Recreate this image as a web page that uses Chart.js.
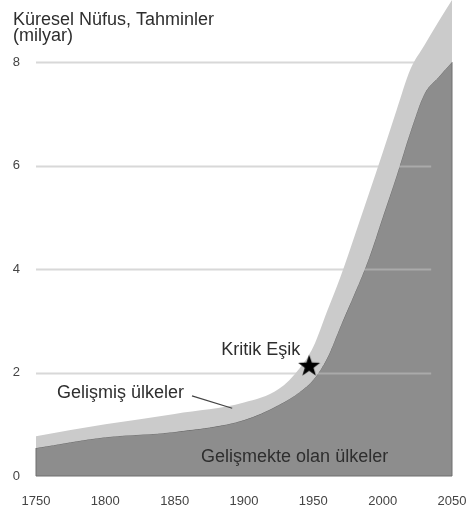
<!DOCTYPE html>
<html><head><meta charset="utf-8">
<script src="https://cdn.jsdelivr.net/npm/chart.js@4"></script>
<style>html,body{margin:0;padding:0;background:#fff}canvas{display:block}</style>
</head><body>
<canvas id="c" width="466" height="517"></canvas>
<script>
// ---- data ----
const years      = [1750, 1800, 1850, 1900, 1925, 1940, 1950, 1960, 1970, 1980, 1990, 2000, 2010, 2020, 2030, 2040, 2050];
const developing = [0.54, 0.75, 0.85, 1.08, 1.37, 1.62, 1.86, 2.28, 2.92, 3.54, 4.20, 5.00, 5.80, 6.65, 7.38, 7.70, 8.00];
const total      = [0.77, 1.00, 1.20, 1.42, 1.68, 2.08, 2.50, 3.19, 3.88, 4.66, 5.45, 6.25, 7.07, 7.86, 8.32, 8.77, 9.20];
const xTickValues = [1750, 1800, 1850, 1900, 1950, 2000, 2050];
const yTickValues = [0, 2, 4, 6, 8];
const criticalPoint = [1947, 2.13];
const titleLines = ['Küresel Nüfus, Tahminler', '(milyar)'];
const labelDeveloped = 'Gelişmiş ülkeler';
const labelDeveloping = 'Gelişmekte olan ülkeler';
const labelCritical = 'Kritik Eşik';

// ---- annotation placement (data units) ----
const place = {
  critical:   {x: 1912, y: 2.34},
  developed:  {x: 1811, y: 1.51},
  leaderFrom: {x: 1862.5, y: 1.55},
  leaderTo:   {x: 1891.5, y: 1.31},
  developingLbl: {x: 1936.5, y: 0.27},
  gridEnd: 2035
};

const FONT = '"Liberation Sans", Arial, Helvetica, sans-serif';

const starImg = (() => {
  const c = document.createElement('canvas');
  c.width = 24; c.height = 24;
  const g = c.getContext('2d');
  g.fillStyle = '#000';
  g.beginPath();
  for (let i = 0; i < 10; i++) {
    const r = i % 2 ? 4.6 : 11.5;
    const a = -Math.PI / 2 + i * Math.PI / 5;
    g.lineTo(12 + r * Math.cos(a), 12.5 + r * Math.sin(a));
  }
  g.closePath();
  g.fill();
  return c;
})();

const pts = arr => years.map((y, i) => ({x: y, y: arr[i]}));
const noPad = s => { s.paddingLeft = 0; s.paddingRight = 0; s.paddingTop = 0; s.paddingBottom = 0; };

const decor = {
  id: 'decor',
  afterDatasetDraw(chart, args) {
    if (args.index !== 2) return;
    const {ctx, chartArea, scales: {x, y}} = chart;
    ctx.save();
    ctx.strokeStyle = 'rgba(190,190,190,0.6)';
    ctx.lineWidth = 2;
    yTickValues.slice(1).forEach(v => {
      const py = Math.round(y.getPixelForValue(v)) + 0.5;
      ctx.beginPath();
      ctx.moveTo(chartArea.left, py);
      ctx.lineTo(x.getPixelForValue(place.gridEnd), py);
      ctx.stroke();
    });
    ctx.strokeStyle = '#6e6e6e';
    ctx.lineWidth = 1;
    ctx.beginPath();
    ctx.moveTo(x.getPixelForValue(years[0]), y.getPixelForValue(developing[0]));
    ctx.lineTo(x.getPixelForValue(years[0]), y.getPixelForValue(0));
    ctx.lineTo(x.getPixelForValue(years[years.length - 1]), y.getPixelForValue(0));
    ctx.lineTo(x.getPixelForValue(years[years.length - 1]), y.getPixelForValue(developing[developing.length - 1]));
    ctx.stroke();
    ctx.restore();
  },
  afterDraw(chart) {
    const {ctx, scales: {x, y}} = chart;
    ctx.save();
    ctx.fillStyle = '#2e2e2e';
    ctx.font = '18px ' + FONT;
    ctx.textAlign = 'left';
    ctx.textBaseline = 'alphabetic';
    ctx.fillText(titleLines[0], 13, 25);
    ctx.fillText(titleLines[1], 13, 41);

    ctx.textAlign = 'center';
    ctx.fillText(labelCritical, x.getPixelForValue(place.critical.x), y.getPixelForValue(place.critical.y));
    ctx.fillText(labelDeveloped, x.getPixelForValue(place.developed.x), y.getPixelForValue(place.developed.y));
    ctx.fillText(labelDeveloping, x.getPixelForValue(place.developingLbl.x), y.getPixelForValue(place.developingLbl.y));

    ctx.strokeStyle = '#444';
    ctx.lineWidth = 1.2;
    ctx.beginPath();
    ctx.moveTo(x.getPixelForValue(place.leaderFrom.x), y.getPixelForValue(place.leaderFrom.y));
    ctx.lineTo(x.getPixelForValue(place.leaderTo.x), y.getPixelForValue(place.leaderTo.y));
    ctx.stroke();
    ctx.restore();
  }
};

new Chart(document.getElementById('c'), {
  type: 'line',
  data: {
    datasets: [
      {
        label: labelCritical,
        data: [{x: criticalPoint[0], y: criticalPoint[1]}],
        showLine: false,
        pointStyle: starImg,
        pointRadius: 12,
        order: 0
      },
      {
        label: 'Toplam',
        data: pts(total),
        fill: 2,
        backgroundColor: '#cbcbcb',
        borderWidth: 0,
        pointRadius: 0,
        cubicInterpolationMode: 'monotone',
        order: 1
      },
      {
        label: labelDeveloping,
        data: pts(developing),
        fill: 'origin',
        backgroundColor: '#8d8d8d',
        borderColor: '#6a6a6a',
        borderWidth: 1,
        pointRadius: 0,
        cubicInterpolationMode: 'monotone',
        order: 2
      }
    ]
  },
  options: {
    responsive: false,
    animation: false,
    devicePixelRatio: 1,
    layout: {autoPadding: false, padding: {left: 0, right: 14, top: 0, bottom: 0}},
    plugins: {legend: {display: false}, tooltip: {enabled: false}},
    scales: {
      x: {
        type: 'linear', min: 1750, max: 2050,
        afterBuildTicks: s => { s.ticks = xTickValues.map(v => ({value: v})); },
        afterFit: s => { s.height = 41; noPad(s); },
        grid: {display: false, drawTicks: false},
        border: {display: false},
        ticks: {font: {family: FONT, size: 13}, color: '#444', padding: 18, maxRotation: 0, autoSkip: false,
                callback: v => String(v)}
      },
      y: {
        min: 0, max: 9.2,
        afterBuildTicks: s => { s.ticks = yTickValues.map(v => ({value: v})); },
        afterFit: s => { s.width = 36; noPad(s); },
        grid: {display: false, drawTicks: false},
        border: {display: false},
        ticks: {font: {family: FONT, size: 13}, color: '#444', padding: 16}
      }
    }
  },
  plugins: [decor]
});
</script>
</body></html>
